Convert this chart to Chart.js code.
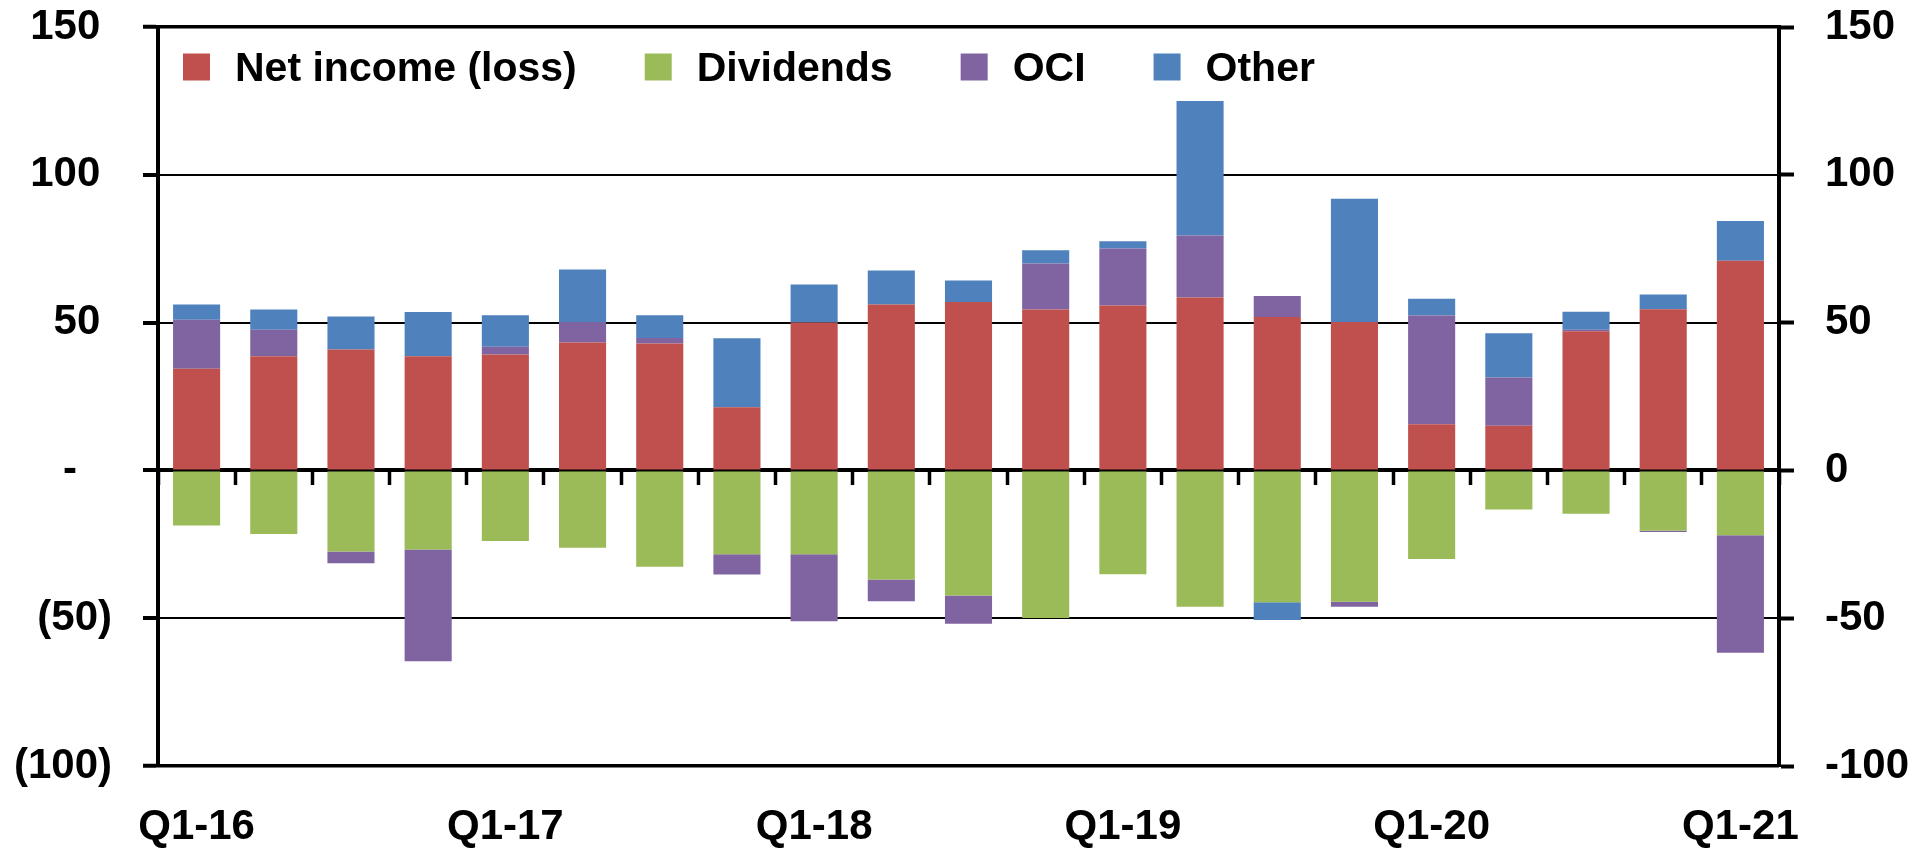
<!DOCTYPE html>
<html>
<head>
<meta charset="utf-8">
<script src="https://cdn.jsdelivr.net/npm/chart.js@4.4.1/dist/chart.umd.min.js"></script>
<style>
  html, body { margin: 0; padding: 0; background: #fff; }
  #wrap { width: 1932px; height: 850px; }
</style>
</head>
<body>
<div id="wrap"><canvas id="equityChart"></canvas></div>
<script>
// quarterly data
const quarters = ["Q1-16", "Q2-16", "Q3-16", "Q4-16", "Q1-17", "Q2-17", "Q3-17", "Q4-17",
  "Q1-18", "Q2-18", "Q3-18", "Q4-18", "Q1-19", "Q2-19", "Q3-19", "Q4-19",
  "Q1-20", "Q2-20", "Q3-20", "Q4-20", "Q1-21"];
const netIncome = [34.4, 38.6, 40.9, 38.6, 39.2, 43.3, 42.9, 21.4, 50.0, 56.1, 57.0,
  54.4, 55.8, 58.5, 51.9, 50.2, 15.6, 15.1, 47.1, 54.5, 70.9];
const dividends = [-18.6, -21.5, -27.4, -26.8, -23.9, -26.2, -32.6, -28.4, -28.4, -36.9, -42.3,
  -49.9, -35.1, -46.1, -44.6, -44.4, -30.0, -13.2, -14.7, -20.4, -21.9];
const oci = [16.6, 9.0, -4.0, -37.8, 2.6, 6.9, 1.9, -6.8, -22.6, -7.4, -9.6,
  15.6, 19.3, 21.0, 7.1, -1.7, 36.8, 16.3, 0.5, -0.4, -39.8];
const other = [5.1, 6.8, 11.2, 15.0, 10.7, 17.8, 7.7, 23.3, 12.9, 11.5, 7.2,
  4.5, 2.4, 45.5, -6.0, 41.7, 5.7, 15.0, 6.1, 5.0, 13.5];
const axisMin = -100;
const axisMax = 150;
const axisStep = 50;

const FONT = "'Liberation Sans', Arial, sans-serif";
Chart.defaults.font.family = FONT;
Chart.defaults.font.weight = "bold";
Chart.defaults.color = "#000";

// legend drawn inside the plot, like the original
const insideLegend = {
  id: "insideLegend",
  afterDraw(chart) {
    const ctx = chart.ctx;
    const area = chart.chartArea;
    let x = area.left + 25;
    const y = area.top + 40;
    ctx.save();
    ctx.font = "bold 41px " + FONT;
    ctx.textBaseline = "middle";
    ctx.textAlign = "left";
    chart.data.datasets.forEach((ds) => {
      ctx.fillStyle = ds.backgroundColor;
      ctx.fillRect(x, y - 13.5, 27, 27);
      x += 27 + 25;
      ctx.fillStyle = "#000";
      ctx.fillText(ds.label, x, y + 3);
      x += ctx.measureText(ds.label).width + 68;
    });
    ctx.restore();
  },
};

// keep the tick padding from pushing the plot area in
function noLabelPadding(scale) {
  scale.paddingTop = 0;
  scale.paddingBottom = 0;
}

const barOpts = { barPercentage: 0.61, categoryPercentage: 1 };

new Chart(document.getElementById("equityChart").getContext("2d"), {
  type: "bar",
  data: {
    labels: quarters,
    datasets: [
      { label: "Net income (loss)", data: netIncome, backgroundColor: "#C0504D", ...barOpts },
      { label: "Dividends", data: dividends, backgroundColor: "#9BBB59", ...barOpts },
      { label: "OCI", data: oci, backgroundColor: "#8064A2", ...barOpts },
      { label: "Other", data: other, backgroundColor: "#4F81BD", ...barOpts },
    ],
  },
  options: {
    responsive: true,
    maintainAspectRatio: false,
    animation: false,
    layout: { padding: { top: 27, left: 0, right: 0, bottom: 0 } },
    plugins: {
      legend: { display: false },
      tooltip: { enabled: false },
    },
    scales: {
      x: {
        type: "category",
        stacked: true,
        position: { y: 0 },
        offset: true,
        z: 1,
        grid: {
          offset: true,
          drawOnChartArea: false,
          drawTicks: true,
          tickLength: 13,
          tickColor: "#000",
          tickWidth: 3.5,
        },
        border: { display: true, color: "#000", width: 4 },
        ticks: { display: false },
      },
      x2: {
        type: "category",
        position: "bottom",
        offset: true,
        grid: { display: false, drawTicks: false, offset: true },
        border: { display: false },
        ticks: {
          autoSkip: false,
          maxRotation: 0,
          padding: 36,
          font: { size: 42, weight: "bold" },
          callback: function (value, index) {
            return index % 4 === 0 ? this.getLabelForValue(value) : "";
          },
        },
        afterFit: (scale) => { scale.height = 84; },
      },
      y: {
        stacked: true,
        position: "left",
        min: axisMin,
        max: axisMax,
        grid: {
          color: "#000",
          lineWidth: (c) => (c.tick && (c.tick.value === axisMax || c.tick.value === axisMin) ? 3.5 : 2),
          drawTicks: true,
          tickLength: 15,
          tickColor: "#000",
          tickWidth: 4,
        },
        border: { display: true, color: "#000", width: 4 },
        ticks: {
          stepSize: axisStep,
          padding: 31,
          font: { size: 42, weight: "bold" },
          callback: (v) => (v === 0 ? "-   " : v < 0 ? "(" + -v + ")" : v + " "),
        },
        afterFit: (scale) => { scale.width = 158; noLabelPadding(scale); },
      },
      y2: {
        position: "right",
        min: axisMin,
        max: axisMax,
        grid: {
          drawOnChartArea: false,
          drawTicks: true,
          tickLength: 15,
          tickColor: "#000",
          tickWidth: 4,
        },
        border: { display: true, color: "#000", width: 4 },
        ticks: {
          stepSize: axisStep,
          padding: 31,
          font: { size: 42, weight: "bold" },
        },
        afterFit: (scale) => { scale.width = 153; noLabelPadding(scale); },
      },
    },
  },
  plugins: [insideLegend],
});
</script>
</body>
</html>
